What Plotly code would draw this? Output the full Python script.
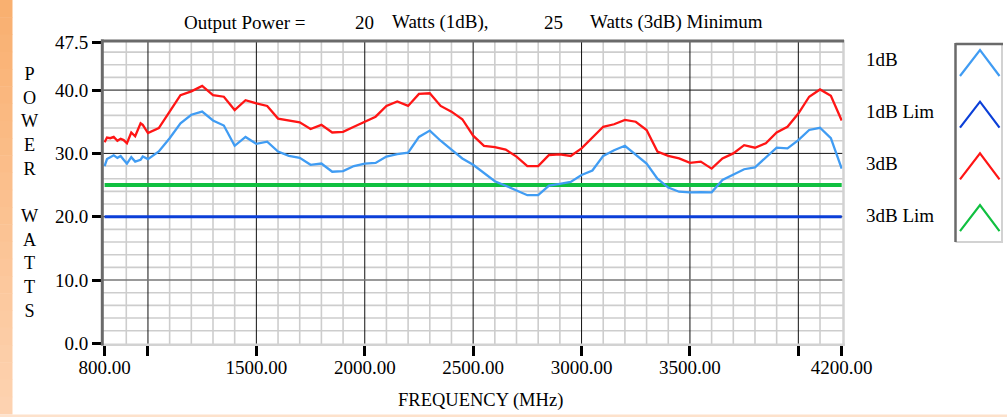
import plotly.graph_objects as go

# ---------------- data ----------------
freq_mhz = [800, 811, 826, 842, 859, 874, 888, 903, 923, 941, 966, 976, 1000,
            1050, 1100, 1150, 1200, 1250, 1300, 1350, 1400, 1450, 1500,
            1550, 1600, 1650, 1700, 1750, 1800, 1850, 1900, 1950, 2000,
            2050, 2100, 2150, 2200, 2250, 2300, 2350, 2400, 2450, 2500,
            2550, 2600, 2650, 2700, 2750, 2800, 2850, 2900, 2950, 3000,
            3050, 3100, 3150, 3200, 3250, 3300, 3350, 3400, 3450, 3500,
            3550, 3600, 3650, 3700, 3750, 3800, 3850, 3900, 3950, 4000,
            4050, 4100, 4150, 4200]

power_1db = [28.0, 29.1, 29.4, 29.7, 29.3, 29.6, 29.0, 28.4, 29.4, 28.7, 29.0, 29.5, 29.1,
             30.3, 32.4, 34.75, 36.1, 36.6, 35.2, 34.4, 31.2, 32.6, 31.5,
             31.85, 30.3, 29.6, 29.3, 28.2, 28.4, 27.1, 27.2, 28.0, 28.4,
             28.5, 29.5, 29.9, 30.1, 32.6, 33.6, 32.0, 30.6, 29.2, 28.2,
             26.85, 25.6, 24.9, 24.2, 23.4, 23.4, 24.9, 25.2, 25.5, 26.6,
             27.3, 29.6, 30.5, 31.2, 29.85, 28.4, 26.0, 24.6, 23.95, 23.85,
             23.9, 23.85, 25.8, 26.6, 27.5, 27.8, 29.3, 30.9, 30.8, 32.1,
             33.7, 34.05, 32.4, 27.6]

power_3db = [31.75, 32.5, 32.4, 32.6, 32.0, 32.3, 32.1, 31.6, 33.3, 32.7, 34.75, 34.5, 33.2,
             34.0, 36.6, 39.2, 39.8, 40.65, 39.2, 38.95, 36.85, 38.4, 37.9,
             37.5, 35.5, 35.2, 34.9, 33.85, 34.5, 33.3, 33.4, 34.2, 35.0,
             35.8, 37.5, 38.2, 37.5, 39.4, 39.5, 37.5, 36.6, 35.4, 32.8,
             31.2, 31.0, 30.6, 29.5, 28.0, 28.0, 29.75, 29.85, 29.6, 30.8,
             32.5, 34.2, 34.6, 35.3, 35.0, 33.7, 30.3, 29.6, 29.2, 28.5,
             28.7, 27.6, 29.2, 30.0, 31.3, 30.9, 31.6, 33.3, 34.2, 36.3,
             38.95, 40.1, 39.1, 35.2]

limit_1db = 20
limit_3db = 25
limit_span = [800, 4200]

x_tick_vals = [800, 1000, 1500, 2000, 2500, 3000, 3500, 4000, 4200]
x_tick_text = ["800.00", "", "1500.00", "2000.00", "2500.00", "3000.00", "3500.00", "", "4200.00"]
y_tick_vals = [0, 10, 20, 30, 40, 47.5]
y_tick_text = ["0.0", "10.0", "20.0", "30.0", "40.0", "47.5"]

series_names = ["1dB", "1dB Lim", "3dB", "3dB Lim"]
series_colors = ["#409cf3", "#0b3fd8", "#ff1515", "#10c040"]

# ---------------- layout geometry ----------------
FIG_W, FIG_H = 1007, 417
L, T, R, B = 103, 41, 164, 73
W = FIG_W - L - R
H = FIG_H - T - B
X_RANGE = [792.6, 4206]
Y_RANGE = [-0.1, 47.75]
FONT = "Liberation Serif"


def px(x):
    return (x - L) / W


def py(y):
    return (T + H - y) / H


fig = go.Figure()

# limit lines
fig.add_trace(go.Scatter(x=limit_span, y=[limit_3db] * 2, mode="lines",
                         line=dict(color=series_colors[3], width=4), name=series_names[3]))
fig.add_trace(go.Scatter(x=limit_span, y=[limit_1db] * 2, mode="lines",
                         line=dict(color=series_colors[1], width=3), name=series_names[1]))
# measured lines
fig.add_trace(go.Scatter(x=freq_mhz, y=power_3db, mode="lines",
                         line=dict(color=series_colors[2], width=2.3), name=series_names[2]))
fig.add_trace(go.Scatter(x=freq_mhz, y=power_1db, mode="lines",
                         line=dict(color=series_colors[0], width=2.3), name=series_names[0]))

shapes = []

# background decoration: orange gradient strip on the left, peach strip at bottom
n_bands = 24
c_top = (249, 176, 112)
c_bot = (253, 210, 176)
for i in range(n_bands):
    f = i / (n_bands - 1)
    col = tuple(int(round(c_top[k] + (c_bot[k] - c_top[k]) * f)) for k in range(3))
    y0 = 414 * i / n_bands
    y1 = 414 * (i + 1) / n_bands + 0.5
    shapes.append(dict(type="rect", xref="paper", yref="paper",
                       x0=px(0), x1=px(12.5), y0=py(y1), y1=py(y0),
                       line=dict(width=0), fillcolor="rgb(%d,%d,%d)" % col, layer="below"))
shapes.append(dict(type="rect", xref="paper", yref="paper",
                   x0=px(0), x1=px(FIG_W), y0=py(FIG_H), y1=py(414.5),
                   line=dict(width=0), fillcolor="#fde2cc", layer="below"))

# grid lines
minor_x = [v for v in range(900, 4200, 100) if v % 500 != 0]
major_x = [1000, 1500, 2000, 2500, 3000, 3500, 4000]
for v in minor_x:
    shapes.append(dict(type="line", xref="x", yref="paper", x0=v, x1=v, y0=0, y1=1,
                       line=dict(color="#cdcdcd", width=1.6), layer="below"))
minor_y = [v for v in range(2, 48, 2) if v % 10 != 0]
for v in minor_y:
    shapes.append(dict(type="line", xref="paper", yref="y", x0=0, x1=1, y0=v, y1=v,
                       line=dict(color="#cdcdcd", width=1.6), layer="below"))
for v in major_x:
    shapes.append(dict(type="line", xref="x", yref="paper", x0=v, x1=v, y0=0, y1=1,
                       line=dict(color="#111111", width=1), layer="below"))
for v, c, w in [(10, "#777777", 1.6), (20, "#111111", 1), (30, "#111111", 1), (40, "#111111", 1)]:
    shapes.append(dict(type="line", xref="paper", yref="y", x0=0, x1=1, y0=v, y1=v,
                       line=dict(color=c, width=w), layer="below"))

# frame (bevel)
shapes.append(dict(type="line", xref="paper", yref="paper", x0=px(843.5), x1=px(843.5),
                   y0=py(345.5), y1=py(40), line=dict(color="#d2d2d2", width=2.5)))
shapes.append(dict(type="line", xref="paper", yref="paper", x0=px(101), x1=px(845),
                   y0=py(344.8), y1=py(344.8), line=dict(color="#d2d2d2", width=2.5)))
shapes.append(dict(type="line", xref="paper", yref="paper", x0=px(102.3), x1=px(102.3),
                   y0=py(345.5), y1=py(39.5), line=dict(color="#6a6a6a", width=3)))
shapes.append(dict(type="line", xref="paper", yref="paper", x0=px(101), x1=px(844),
                   y0=py(41), y1=py(41), line=dict(color="#6a6a6a", width=3)))

# legend box
LB_L, LB_R, LB_T, LB_B = 955.5, 1002, 44, 242
shapes.append(dict(type="line", xref="paper", yref="paper", x0=px(LB_R), x1=px(LB_R),
                   y0=py(LB_B), y1=py(LB_T), line=dict(color="#d2d2d2", width=2)))
shapes.append(dict(type="line", xref="paper", yref="paper", x0=px(LB_L), x1=px(LB_R + 1),
                   y0=py(LB_B), y1=py(LB_B), line=dict(color="#d2d2d2", width=2)))
shapes.append(dict(type="line", xref="paper", yref="paper", x0=px(LB_L), x1=px(LB_L),
                   y0=py(LB_B), y1=py(LB_T - 1), line=dict(color="#6a6a6a", width=2.5)))
shapes.append(dict(type="line", xref="paper", yref="paper", x0=px(LB_L), x1=px(LB_R + 1),
                   y0=py(LB_T), y1=py(LB_T), line=dict(color="#6a6a6a", width=2.5)))

annotations = []
LEG_ROW0, LEG_STEP = 60, 51.7
for i, (name, col) in enumerate(zip(series_names, series_colors)):
    cy = LEG_ROW0 + i * LEG_STEP
    annotations.append(dict(text=name, xref="paper", yref="paper", x=px(864), y=py(cy),
                            xanchor="left", yanchor="middle", showarrow=False,
                            font=dict(family=FONT, size=19, color="black")))
    apex_y = cy - 10
    base_y = cy + 16
    path = "M %f,%f L %f,%f L %f,%f" % (px(960), py(base_y), px(980), py(apex_y), px(999.5), py(base_y))
    shapes.append(dict(type="path", xref="paper", yref="paper", path=path,
                       line=dict(color=col, width=2.2)))

# title pieces
for txt, xl in [("Output Power =", 181.7), ("20", 353), ("Watts (1dB),", 390),
                ("25", 541.7), ("Watts (3dB) Minimum", 588)]:
    annotations.append(dict(text=txt, xref="paper", yref="paper", x=px(xl), y=py(22),
                            xanchor="left", yanchor="middle", showarrow=False,
                            font=dict(family=FONT, size=19, color="black")))

# axis titles
annotations.append(dict(text="FREQUENCY (MHz)", xref="paper", yref="paper", x=px(480.5), y=py(400.5),
                        xanchor="center", yanchor="middle", showarrow=False,
                        font=dict(family=FONT, size=18.5, color="black")))
annotations.append(dict(text="<br>".join(list("POWER") + [" "] + list("WATTS")),
                        xref="paper", yref="paper", x=px(29.5), y=py(192.5),
                        xanchor="center", yanchor="middle", showarrow=False, align="center",
                        font=dict(family=FONT, size=18.2, color="black")))

fig.update_layout(
    width=FIG_W, height=FIG_H,
    margin=dict(l=L, r=R, t=T, b=B, pad=0),
    paper_bgcolor="white", plot_bgcolor="white",
    showlegend=False,
    font=dict(family=FONT, size=19, color="black"),
    shapes=shapes, annotations=annotations,
    xaxis=dict(range=X_RANGE, tickmode="array", tickvals=x_tick_vals, ticktext=x_tick_text,
               ticks="outside", ticklen=11, tickwidth=3, tickcolor="black",
               ticklabelstandoff=-5,
               showgrid=False, zeroline=False, showline=False,
               tickfont=dict(family=FONT, size=19, color="black")),
    yaxis=dict(range=Y_RANGE, tickmode="array", tickvals=y_tick_vals, ticktext=y_tick_text,
               ticks="outside", ticklen=10, tickwidth=3, tickcolor="black",
               showgrid=False, zeroline=False, showline=False,
               tickfont=dict(family=FONT, size=19, color="black")),
)

fig.write_html("out.html")
